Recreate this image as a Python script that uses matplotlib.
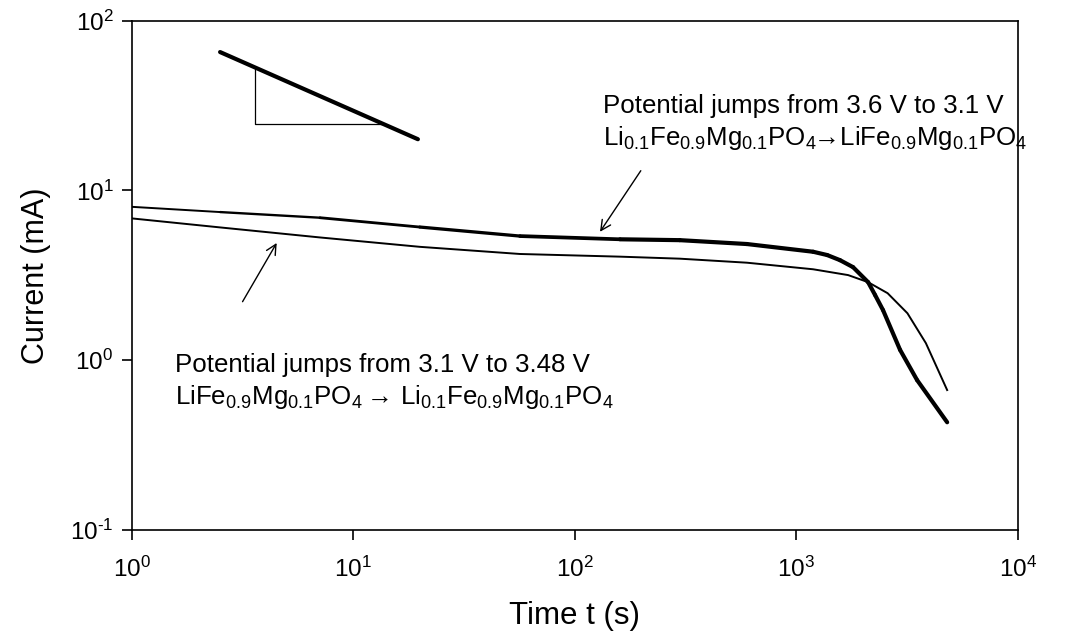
import numpy as np
import matplotlib
matplotlib.use("Agg")
import matplotlib.pyplot as plt
from matplotlib.collections import LineCollection

plt.rcParams['font.family'] = ['Liberation Sans', 'DejaVu Sans']
plt.rcParams['mathtext.fontset'] = 'custom'
plt.rcParams['mathtext.rm'] = 'Liberation Sans'
plt.rcParams['mathtext.it'] = 'Liberation Sans:italic'
plt.rcParams['mathtext.bf'] = 'Liberation Sans:bold'

# 3.6 V -> 3.1 V (thick curve)
t_down = [1.0, 2.51, 7.09, 20.0, 56.6, 160, 298, 598, 1190, 1377, 1574, 1802, 2107, 2265, 2461, 2937, 3506, 4790]
i_down = [8.0, 7.45, 6.90, 6.08, 5.38, 5.15, 5.09, 4.83, 4.35, 4.16, 3.88, 3.53, 2.88, 2.42, 1.97, 1.15, 0.763, 0.431]

# 3.1 V -> 3.48 V (thin curve)
t_up = [1.0, 2.51, 7.09, 20.0, 56.6, 160, 298, 598, 1190, 1712, 2107, 2580, 3170, 3840, 4790]
i_up = [6.84, 6.05, 5.28, 4.65, 4.22, 4.07, 3.96, 3.75, 3.43, 3.17, 2.88, 2.48, 1.89, 1.26, 0.667]

# slope guide and its triangle
slope_t = [2.51, 19.6]
slope_i = [65.2, 20.0]
tri_t = [3.61, 3.61, 13.6]
tri_i = [53.2, 24.6, 24.6]

xticks = [1, 10, 100, 1000, 10000]
yticks = [0.1, 1, 10, 100]

fig = plt.figure(figsize=(10.7, 6.43), dpi=100)
ax = fig.add_axes([0.1229, 0.1757, 0.8285, 0.7924])

# thick curve gets heavier as the sampled points crowd together
lt = np.log10(t_down)
pts = np.column_stack([t_down, i_down])
segs = np.stack([pts[:-1], pts[1:]], axis=1)
widths = np.interp(lt[:-1], [0, 2.2], [1.4, 3.0])
ax.add_collection(LineCollection(segs, linewidths=widths, colors='black', capstyle='round', joinstyle='round'))
ax.plot(t_up, i_up, color='black', lw=1.4)

ax.plot(slope_t, slope_i, color='black', lw=3.0, solid_capstyle='round')
ax.plot(tri_t, tri_i, color='black', lw=0.9)

ax.set_xscale('log')
ax.set_yscale('log')
ax.set_xlim(1, 1e4)
ax.set_ylim(0.1, 100)
ax.set_xticks(xticks)
ax.set_yticks(yticks)
ax.set_xticklabels([r'$\mathregular{10^{\text{%d}}}$' % np.log10(v) for v in xticks])
ax.set_yticklabels([r'$\mathregular{10^{\text{%d}}}$' % np.log10(v) for v in yticks])
ax.minorticks_off()
ax.tick_params(axis='x', direction='out', length=7, width=1.2, pad=12, labelsize=17.5)
ax.tick_params(axis='y', direction='out', length=7, width=1.2, pad=6, labelsize=17.5)
for s in ax.spines.values():
    s.set_linewidth(1.2)

ax.set_xlabel('Time t (s)', fontsize=22.5, labelpad=14)
ax.set_ylabel('Current (mA)', fontsize=22, labelpad=14)

fs = 18.6
ax.text(0.532, 0.818, 'Potential jumps from 3.6 V to 3.1 V', transform=ax.transAxes,
        fontsize=fs, va='baseline', ha='left')
ax.text(0.532, 0.755,
        r'$\mathregular{Li_{0.1}Fe_{0.9}Mg_{0.1}PO_4\!\!\rightarrow\!LiFe_{0.9}Mg_{0.1}PO_4}$',
        transform=ax.transAxes, fontsize=fs, va='baseline', ha='left')
ax.text(0.049, 0.310, 'Potential jumps from 3.1 V to 3.48 V', transform=ax.transAxes,
        fontsize=fs, va='baseline', ha='left')
ax.text(0.049, 0.247,
        r'$\mathregular{LiFe_{0.9}Mg_{0.1}PO_4\rightarrow\,Li_{0.1}Fe_{0.9}Mg_{0.1}PO_4}$',
        transform=ax.transAxes, fontsize=fs, va='baseline', ha='left')

arrow = dict(arrowstyle='->', color='black', lw=1.0, mutation_scale=18, shrinkA=0, shrinkB=0)
ax.annotate('', xy=(130, 5.70), xytext=(198.6, 13.05), arrowprops=arrow)
ax.annotate('', xy=(4.52, 4.90), xytext=(3.17, 2.21), arrowprops=arrow)

fig.savefig('out.png', dpi=100)
